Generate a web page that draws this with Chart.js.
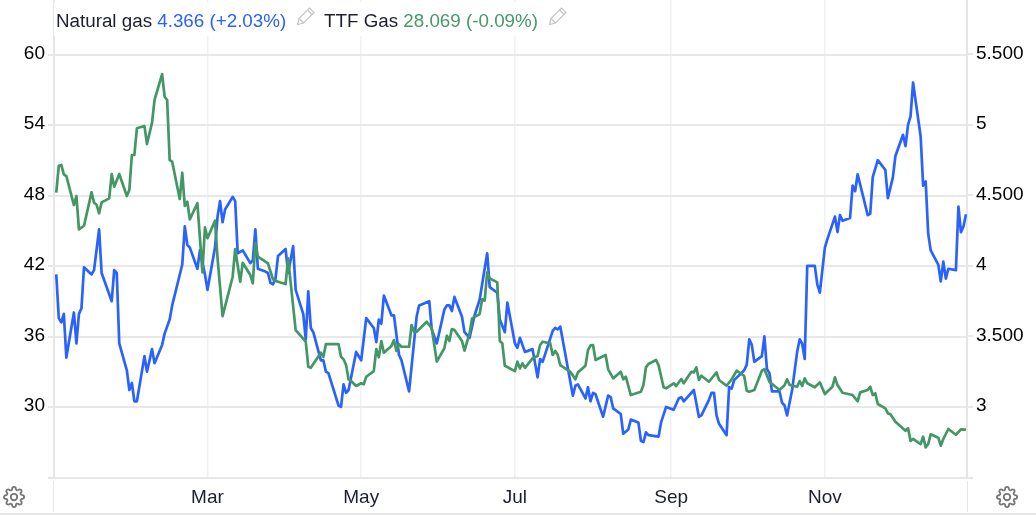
<!DOCTYPE html>
<html>
<head>
<meta charset="utf-8">
<title>Natural gas vs TTF Gas</title>
<script src="https://cdn.jsdelivr.net/npm/chart.js@4"></script>
<style>
    html, body { margin: 0; padding: 0; background: #fff; }
    #wrap { position: relative; width: 1036px; height: 515px; overflow: hidden; font-family: "Liberation Sans", Arial, sans-serif; }
    #grafico { position: absolute; left: 0; top: 0; }
    #leyenda { position: absolute; left: 54px; top: 2px; width: 515px; height: 34px; background: #fff; font-size: 18.8px; line-height: 34px; color: #1c2030; white-space: nowrap; }
    #leyenda span { position: absolute; top: 2px; }
    #leyenda svg { position: absolute; top: 4px; }
    .gris { position: absolute; background: #e6e6e6; }
    .engranaje { position: absolute; top: 486px; }
</style>
</head>
<body>
<svg width="0" height="0" style="position:absolute">
    <symbol id="gear" viewBox="0 0 24 24">
        <circle cx="12" cy="12" r="3.5"/>
        <path d="M19.4 15a1.65 1.65 0 0 0 .33 1.82l.06.06a2 2 0 0 1 0 2.83 2 2 0 0 1-2.83 0l-.06-.06a1.65 1.65 0 0 0-1.82-.33 1.65 1.65 0 0 0-1 1.51V21a2 2 0 0 1-2 2 2 2 0 0 1-2-2v-.09A1.65 1.65 0 0 0 9 19.4a1.65 1.65 0 0 0-1.82.33l-.06.06a2 2 0 0 1-2.83 0 2 2 0 0 1 0-2.83l.06-.06a1.65 1.65 0 0 0 .33-1.82 1.65 1.65 0 0 0-1.51-1H3a2 2 0 0 1-2-2 2 2 0 0 1 2-2h.09A1.65 1.65 0 0 0 4.6 9a1.65 1.65 0 0 0-.33-1.82l-.06-.06a2 2 0 0 1 0-2.83 2 2 0 0 1 2.83 0l.06.06a1.65 1.65 0 0 0 1.82.33H9a1.65 1.65 0 0 0 1-1.51V3a2 2 0 0 1 2-2 2 2 0 0 1 2 2v.09a1.65 1.65 0 0 0 1 1.51 1.65 1.65 0 0 0 1.82-.33l.06-.06a2 2 0 0 1 2.83 0 2 2 0 0 1 0 2.83l-.06.06a1.65 1.65 0 0 0-.33 1.82V9a1.65 1.65 0 0 0 1.51 1H21a2 2 0 0 1 2 2 2 2 0 0 1-2 2h-.09a1.65 1.65 0 0 0-1.51 1z"/>
    </symbol>
</svg>
<div id="wrap">
    <canvas id="grafico" width="1036" height="515"></canvas>
    <div id="leyenda">
        <span style="left:2px">Natural gas <span style="position:static;color:#2962ff">4.366 (+2.03%)</span></span>
        <svg style="left:242px" width="20" height="20" viewBox="0 0 20 20" fill="none" stroke="#c4c4c4" stroke-width="1.2"><path d="M1.5 18.5l1.5-6L13.5 2l4.5 4.5L7.5 17z"/><path d="M3 12.5l4.5 4.5M11.5 4l4.5 4.5"/></svg>
        <span style="left:270px">TTF Gas <span style="position:static;color:#46996a">28.069 (-0.09%)</span></span>
        <svg style="left:494px" width="20" height="20" viewBox="0 0 20 20" fill="none" stroke="#c4c4c4" stroke-width="1.2"><path d="M1.5 18.5l1.5-6L13.5 2l4.5 4.5L7.5 17z"/><path d="M3 12.5l4.5 4.5M11.5 4l4.5 4.5"/></svg>
    </div>
    <div class="gris" style="left:53px;top:481px;width:1px;height:31px"></div>
    <div class="gris" style="left:967px;top:481px;width:1px;height:31px"></div>
    <div class="gris" style="left:48px;top:477px;width:6px;height:2px"></div>
    <div class="gris" style="left:967px;top:477px;width:6px;height:2px"></div>
    <div class="gris" style="left:0;top:513px;width:1036px;height:2px"></div>
    <svg class="engranaje" style="left:3px" width="22" height="22" fill="none" stroke="#777" stroke-width="2"><use href="#gear"/></svg>
    <svg class="engranaje" style="left:996px" width="22" height="22" fill="none" stroke="#777" stroke-width="2"><use href="#gear"/></svg>
</div>
<script>
// days counted from 1 Jan
const gasDays = [
    -1,0,1,2,3,6,7,8,9,10,13,14,16,17,21,22,23,24,27,28,
    29,30,31,34,35,37,38,41,42,44,45,49,50,51,52,55,56,58,59,62,
    63,64,65,66,69,70,71,73,76,77,78,79,82,83,84,85,86,87,90,91,
    93,94,97,98,99,100,101,104,105,106,107,111,112,113,114,115,118,120,122,125,
    126,127,128,129,132,133,135,136,139,142,143,147,148,150,153,154,155,156,157,160,
    161,163,165,167,170,171,174,175,177,178,181,182,183,185,188,190,191,192,196,197,
    198,199,204,205,206,209,210,211,212,213,216,218,219,220,223,224,226,227,230,231,
    232,233,234,238,239,241,244,246,247,248,252,254,255,258,259,260,261,262,265,266,
    267,268,272,273,274,275,276,279,280,281,282,283,286,287,288,289,291,293,294,295,
    296,297,300,301,302,304,305,308,309,310,311,314,315,316,317,321,322,323,325,328,
    329,331,332,335,336,337,338,339,342,343,344,345,346,349,350,351,352,353,356,357,
    358,359,360
];
const gasValues = [
    3.94,3.63,3.60,3.66,3.35,3.67,3.45,3.66,3.70,3.99,3.94,3.97,4.26,3.95,3.75,3.97,3.95,3.45,3.26,3.12,
    3.17,3.04,3.04,3.36,3.25,3.41,3.31,3.44,3.52,3.62,3.72,4.01,4.28,4.15,4.13,3.98,4.11,3.94,3.83,4.13,
    4.35,4.46,4.31,4.40,4.49,4.46,4.09,4.11,4.02,4.04,4.26,3.98,3.96,3.95,3.88,3.87,3.91,4.07,4.12,3.95,
    4.14,3.83,3.66,3.48,3.82,3.56,3.53,3.33,3.33,3.25,3.24,3.01,3.00,3.16,3.10,3.12,3.39,3.33,3.63,3.56,
    3.46,3.62,3.59,3.79,3.65,3.65,3.37,3.33,3.11,3.64,3.72,3.75,3.55,3.45,3.69,3.72,3.72,3.68,3.78,3.64,
    3.53,3.49,3.65,3.76,4.09,3.85,3.81,3.62,3.53,3.74,3.45,3.42,3.49,3.39,3.41,3.21,3.34,3.32,3.54,3.56,
    3.55,3.57,3.08,3.15,3.16,3.06,3.14,3.04,3.10,3.09,2.93,3.08,3.07,2.99,2.95,2.81,2.84,2.91,2.89,2.76,
    2.75,2.82,2.80,2.79,2.89,3.00,2.98,3.06,3.07,3.04,3.12,2.93,2.94,3.05,3.10,3.10,2.94,2.88,2.80,3.14,
    3.13,3.19,3.26,3.30,3.48,3.44,3.32,3.36,3.50,3.27,3.24,3.11,3.11,3.03,3.01,2.94,3.12,3.39,3.48,3.45,
    3.34,4.00,4.00,3.87,3.81,4.13,4.19,4.35,4.24,4.36,4.32,4.34,4.57,4.53,4.65,4.36,4.37,4.63,4.75,4.68,
    4.48,4.63,4.78,4.93,4.85,5.00,5.06,5.30,4.92,4.57,4.60,4.23,4.11,4.01,3.89,4.03,3.91,3.98,3.97,4.42,
    4.24,4.28,4.366
];
const ttfDays = [
    -1,0,1,2,3,6,7,8,10,13,14,15,16,17,20,21,22,24,27,28,
    29,30,31,34,35,37,38,41,42,43,44,45,48,49,50,51,52,55,57,58,
    59,62,63,65,69,70,72,73,76,77,78,79,83,85,87,90,91,94,98,99,
    100,104,105,106,111,112,113,114,115,116,118,120,121,122,125,126,127,128,129,132,
    133,134,135,136,139,140,141,142,146,148,150,153,154,155,156,157,160,161,163,164,
    167,168,169,170,171,174,175,176,177,181,182,183,184,185,188,190,191,192,195,196,
    197,198,199,203,205,206,209,210,211,212,213,217,218,220,223,224,225,227,231,232,
    233,234,237,238,240,241,244,245,247,248,251,252,253,254,255,258,261,262,265,267,
    269,272,273,274,276,279,280,282,286,288,289,290,293,294,295,296,297,300,302,304,
    307,308,309,311,315,317,318,321,322,323,324,325,328,329,330,332,336,337,338,339,
    342,343,344,345,346,349,350,351,353,356,358,360
];
const ttfValues = [
    48.24,50.54,50.60,49.80,49.66,47.19,47.96,45.12,45.43,48.27,47.39,47.22,46.49,47.42,47.76,49.83,48.75,49.83,47.96,48.47,
    51.45,51.45,53.72,53.91,52.38,54.20,56.13,58.34,56.41,56.13,51.02,50.88,47.70,49.94,47.11,47.47,45.97,47.34,41.46,45.29,
    44.36,45.86,42.66,37.74,41.09,43.45,40.66,42.28,41.23,40.53,43.98,42.79,42.23,40.87,40.66,40.47,42.66,36.55,35.56,33.43,
    33.34,34.62,34.28,35.36,35.36,34.28,34.06,33.57,32.36,32.21,31.79,32.02,31.93,32.58,33.06,34.94,34.23,35.62,34.62,35.19,
    35.70,34.77,35.36,35.13,35.13,36.98,36.41,36.41,37.26,36.70,33.86,35.00,36.07,35.62,36.64,36.55,35.62,34.79,36.27,37.55,
    37.91,39.17,39.05,41.46,40.95,40.61,35.62,35.42,33.51,33.06,33.86,33.29,33.72,33.34,34.14,34.34,35.28,35.56,35.42,34.43,
    34.77,34.43,33.57,33.00,32.36,32.95,33.51,34.85,35.25,35.28,34.00,34.43,33.21,32.44,33.00,32.36,32.58,31.02,31.30,31.87,
    33.38,33.66,34.00,33.57,31.68,31.59,32.02,31.79,32.38,32.02,33.00,32.95,33.38,32.30,32.66,32.15,32.95,32.30,31.81,32.36,
    33.09,32.64,31.39,31.30,31.45,33.09,33.23,32.15,31.45,31.85,32.36,31.87,31.73,32.21,31.79,32.44,32.02,31.68,32.10,31.11,
    31.73,32.53,31.87,31.22,31.02,30.49,31.25,31.45,31.73,31.02,31.17,30.26,29.89,29.46,29.38,28.75,27.98,28.19,27.11,27.28,
    26.85,27.47,26.57,26.85,27.68,27.39,26.71,27.28,28.13,27.64,28.10,28.069
];

const monthDays = [59, 120, 181, 243, 304];
const monthLabels = ["Mar", "May", "Jul", "Sep", "Nov"];
const ttfTicks = [60, 54, 48, 42, 36, 30];
const ttfTickLabels = ["60", "54", "48", "42", "36", "30"];
const gasTicks = [5.5, 5, 4.5, 4, 3.5, 3];
const gasTickLabels = ["5.500", "5", "4.500", "4", "3.500", "3"];

function toPoints(days, values) {
    return days.map((d, i) => ({ x: d, y: values[i] }));
}

const ctx = document.getElementById("grafico").getContext("2d");
const fuente = { family: "'Liberation Sans', Arial, sans-serif", size: 19 };
// the empty second line lifts the y labels about 1px above their grid line
const fuenteY = { family: "'Liberation Sans', Arial, sans-serif", size: 19, lineHeight: "2px" };

new Chart(ctx, {
    type: "line",
    data: {
        datasets: [
            {
                label: "TTF Gas",
                data: toPoints(ttfDays, ttfValues),
                yAxisID: "yTtf",
                borderColor: "#429765",
                borderWidth: 2.7,
                borderJoinStyle: "round",
                pointRadius: 0,
                tension: 0
            },
            {
                label: "Natural gas",
                data: toPoints(gasDays, gasValues),
                yAxisID: "yGas",
                borderColor: "#2962ff",
                borderWidth: 2.7,
                borderJoinStyle: "round",
                pointRadius: 0,
                tension: 0
            }
        ]
    },
    options: {
        responsive: false,
        animation: false,
        layout: { padding: 0 },
        plugins: {
            legend: { display: false },
            tooltip: { enabled: false }
        },
        scales: {
            x: {
                type: "linear",
                min: -1.9,
                max: 360.4,
                afterBuildTicks: (scale) => { scale.ticks = monthDays.map(v => ({ value: v })); },
                afterFit: (scale) => {
                    scale.height = 37;
                    scale.paddingLeft = 0;
                    scale.paddingRight = 0;
                },
                grid: { color: "#eef1f6", lineWidth: 1.5, drawTicks: false },
                border: { color: "#e6e6e6", width: 2 },
                ticks: {
                    autoSkip: false,
                    maxRotation: 0,
                    padding: 8,
                    color: "#1c2030",
                    font: fuente,
                    callback: (v, i) => monthLabels[i]
                }
            },
            yTtf: {
                position: "left",
                min: 23.96,
                max: 64.64,
                afterBuildTicks: (scale) => { scale.ticks = ttfTicks.map(v => ({ value: v })); },
                afterFit: (scale) => {
                    scale.width = 54;
                    scale.paddingTop = 0;
                    scale.paddingBottom = 0;
                },
                grid: { color: "#e8e8e8", lineWidth: 2, tickLength: 6 },
                border: { color: "#e6e6e6", width: 2 },
                ticks: {
                    padding: 3,
                    color: "#000",
                    font: fuenteY,
                    callback: (v, i) => [ttfTickLabels[i], ""]
                }
            },
            yGas: {
                position: "right",
                min: 2.496,
                max: 5.886,
                afterBuildTicks: (scale) => { scale.ticks = gasTicks.map(v => ({ value: v })); },
                afterFit: (scale) => {
                    scale.width = 69;
                    scale.paddingTop = 0;
                    scale.paddingBottom = 0;
                },
                grid: { color: "#e8e8e8", lineWidth: 2, tickLength: 6, drawOnChartArea: false },
                border: { color: "#e6e6e6", width: 2 },
                ticks: {
                    padding: 3,
                    color: "#000",
                    font: fuenteY,
                    callback: (v, i) => [gasTickLabels[i], ""]
                }
            }
        }
    }
});
</script>
</body>
</html>
